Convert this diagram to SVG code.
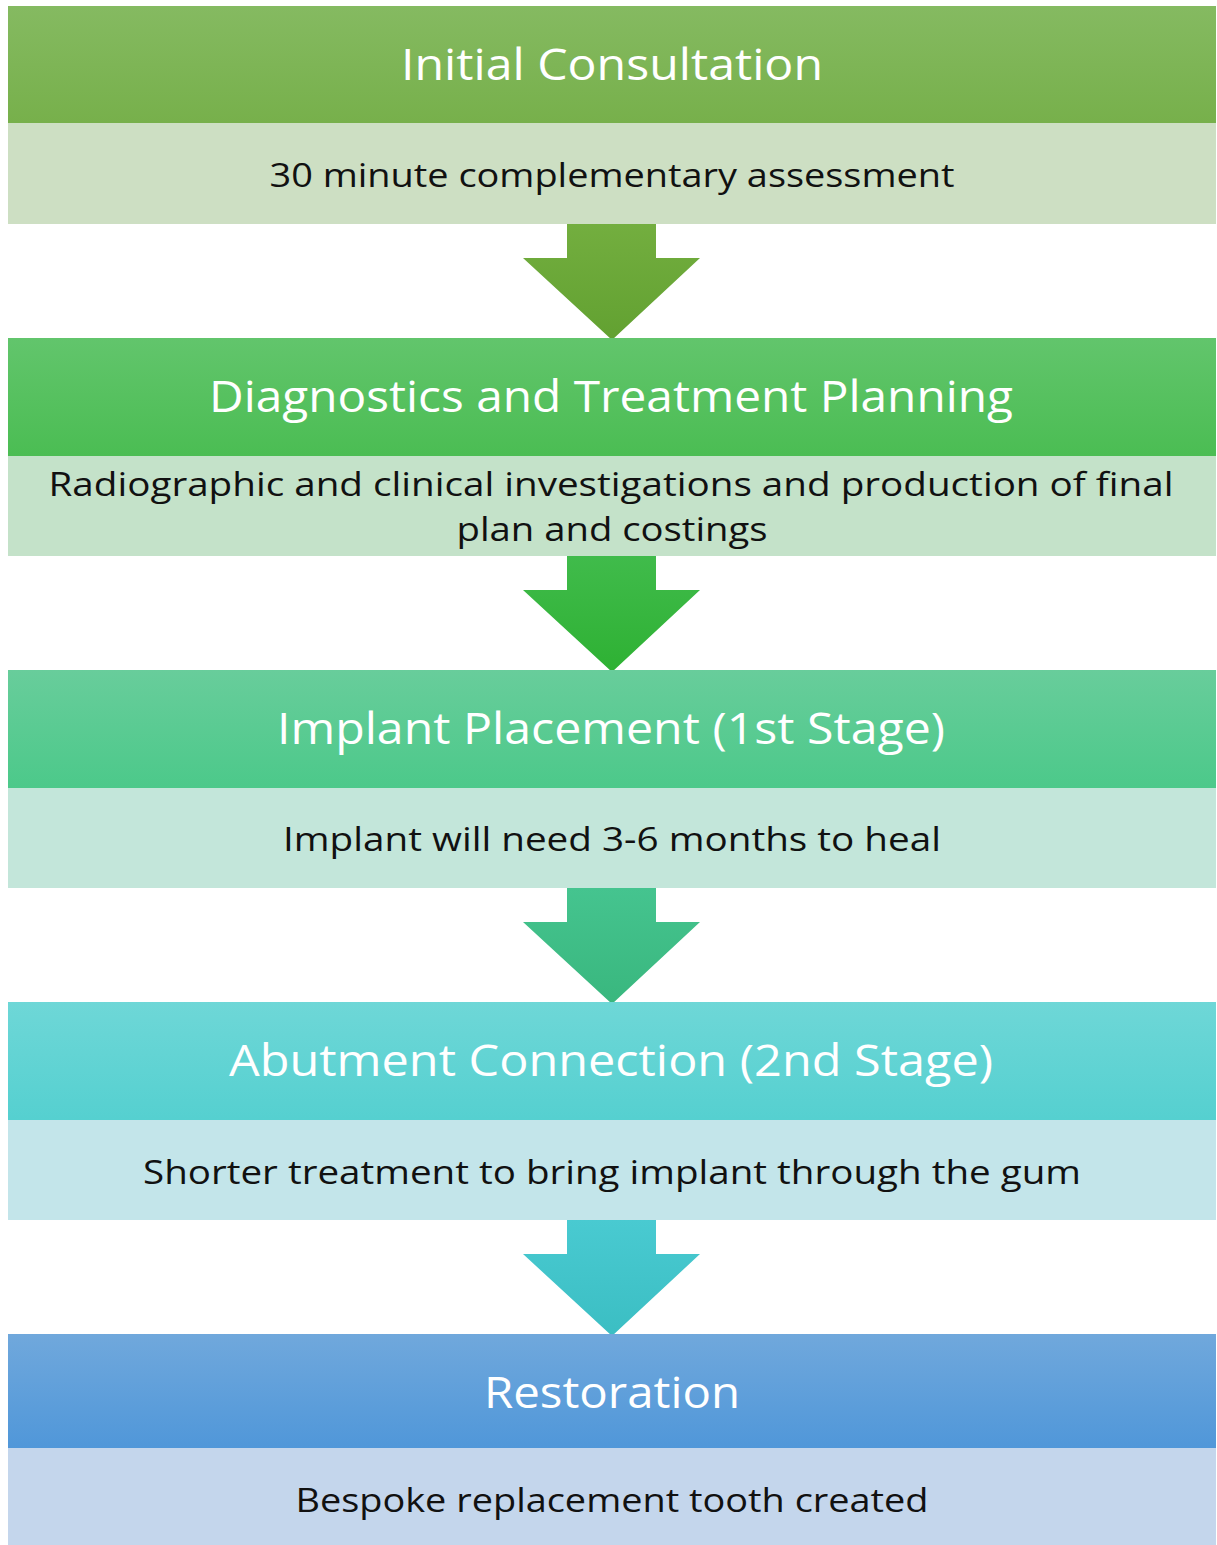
<svg xmlns="http://www.w3.org/2000/svg" width="1217" height="1545" viewBox="0 0 1217 1545">
<style>
.h{font-family:"Open Sans","Noto Sans","Liberation Sans",sans-serif;font-size:43px;fill:#ffffff;text-anchor:middle}
.b{font-family:"Open Sans","Noto Sans","Liberation Sans",sans-serif;font-size:33px;fill:#111111;text-anchor:middle}
</style>
<defs>
<linearGradient id="g1" x1="0" y1="0" x2="0" y2="1"><stop offset="0" stop-color="#85ba61"/><stop offset="1" stop-color="#77b04b"/></linearGradient>
<linearGradient id="g2" x1="0" y1="0" x2="0" y2="1"><stop offset="0" stop-color="#62c56c"/><stop offset="1" stop-color="#4bbd53"/></linearGradient>
<linearGradient id="g3" x1="0" y1="0" x2="0" y2="1"><stop offset="0" stop-color="#68cd9b"/><stop offset="1" stop-color="#4cc98a"/></linearGradient>
<linearGradient id="g4" x1="0" y1="0" x2="0" y2="1"><stop offset="0" stop-color="#6ed7d7"/><stop offset="1" stop-color="#55d0d0"/></linearGradient>
<linearGradient id="g5" x1="0" y1="0" x2="0" y2="1"><stop offset="0" stop-color="#70a8dc"/><stop offset="1" stop-color="#5097d9"/></linearGradient>
<linearGradient id="a1" x1="0" y1="0" x2="0" y2="1"><stop offset="0" stop-color="#73ae3f"/><stop offset="1" stop-color="#62a131"/></linearGradient>
<linearGradient id="a2" x1="0" y1="0" x2="0" y2="1"><stop offset="0" stop-color="#40bb4b"/><stop offset="1" stop-color="#2eb133"/></linearGradient>
<linearGradient id="a3" x1="0" y1="0" x2="0" y2="1"><stop offset="0" stop-color="#45c48f"/><stop offset="1" stop-color="#39b77e"/></linearGradient>
<linearGradient id="a4" x1="0" y1="0" x2="0" y2="1"><stop offset="0" stop-color="#49cad1"/><stop offset="1" stop-color="#3bbec3"/></linearGradient>
<path id="arrow" d="M567,224 L656,224 L656,258 L700,258 L612,340 L523,258 L567,258 Z"/>
</defs>
<g id="connectors">
<use href="#arrow" fill="url(#a1)"/>
<use href="#arrow" fill="url(#a2)" transform="translate(0,332)"/>
<use href="#arrow" fill="url(#a3)" transform="translate(0,664)"/>
<use href="#arrow" fill="url(#a4)" transform="translate(0,996)"/>
</g>
<g id="step1">
<rect x="8" y="6" width="1208" height="117" fill="url(#g1)"/>
<rect x="8" y="123" width="1208" height="101" fill="#cddfc3"/>
<text class="h" x="612" y="80" textLength="422" lengthAdjust="spacingAndGlyphs">Initial Consultation</text>
<text class="b" x="612" y="187" textLength="685" lengthAdjust="spacingAndGlyphs">30 minute complementary assessment</text>
</g>
<g id="step2">
<rect x="8" y="338" width="1208" height="118" fill="url(#g2)"/>
<rect x="8" y="456" width="1208" height="100" fill="#c4e2c9"/>
<text class="h" x="611" y="412" textLength="804" lengthAdjust="spacingAndGlyphs">Diagnostics and Treatment Planning</text>
<text class="b" x="611" y="496" textLength="1125" lengthAdjust="spacingAndGlyphs">Radiographic and clinical investigations and production of final</text>
<text class="b" x="612" y="541" textLength="311" lengthAdjust="spacingAndGlyphs">plan and costings</text>
</g>
<g id="step3">
<rect x="8" y="670" width="1208" height="118" fill="url(#g3)"/>
<rect x="8" y="788" width="1208" height="100" fill="#c3e6da"/>
<text class="h" x="611" y="744" textLength="668" lengthAdjust="spacingAndGlyphs">Implant Placement (1st Stage)</text>
<text class="b" x="612" y="851" textLength="658" lengthAdjust="spacingAndGlyphs">Implant will need 3-6 months to heal</text>
</g>
<g id="step4">
<rect x="8" y="1002" width="1208" height="118" fill="url(#g4)"/>
<rect x="8" y="1120" width="1208" height="100" fill="#c3e5ea"/>
<text class="h" x="611" y="1076" textLength="764" lengthAdjust="spacingAndGlyphs">Abutment Connection (2nd Stage)</text>
<text class="b" x="612" y="1184" textLength="938" lengthAdjust="spacingAndGlyphs">Shorter treatment to bring implant through the gum</text>
</g>
<g id="step5">
<rect x="8" y="1334" width="1208" height="114" fill="url(#g5)"/>
<rect x="8" y="1448" width="1208" height="97" fill="#c4d6ec"/>
<text class="h" x="612" y="1408" textLength="256" lengthAdjust="spacingAndGlyphs">Restoration</text>
<text class="b" x="612" y="1512" textLength="633" lengthAdjust="spacingAndGlyphs">Bespoke replacement tooth created</text>
</g>
</svg>
